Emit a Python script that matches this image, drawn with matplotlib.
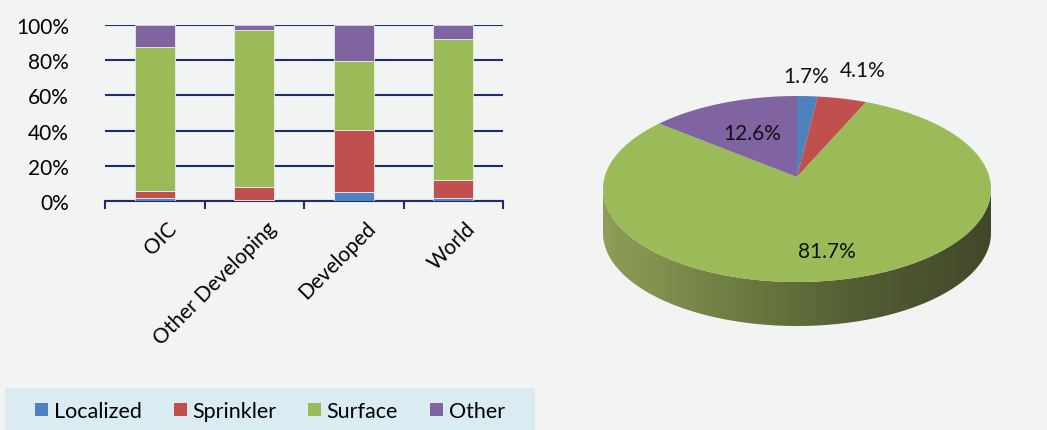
import numpy as np
import matplotlib
matplotlib.use("Agg")
import matplotlib.pyplot as plt
from matplotlib.patches import Polygon, Rectangle
from matplotlib.colors import LinearSegmentedColormap

plt.rcParams['font.family'] = ['Lato', 'DejaVu Sans']

# ---- data ----
regions = ["OIC", "Other Developing", "Developed", "World"]
methods = ["Localized", "Sprinkler", "Surface", "Other"]
localized = [1.7, 0.8, 5.3, 1.9]
sprinkler = [4.1, 6.9, 35.3, 10.2]
surface = [81.7, 89.5, 39.2, 80.2]
other = [12.5, 2.8, 20.2, 7.7]
pie_vals = [1.7, 4.1, 81.7, 12.6]
pie_labels = ["1.7%", "4.1%", "81.7%", "12.6%"]

colors = ["#4f81bd", "#c0504d", "#9bbb59", "#8064a2"]
bg = "#f2f4f4"
navy = "#1f2d6b"
fs = 15

W, H = 1047, 431
fig = plt.figure(figsize=(W / 100, H / 100), dpi=100, facecolor=bg)

# ---- stacked bars ----
ax = fig.add_axes([105 / W, 1 - 202 / H, 398 / W, 176 / H], facecolor=bg)
x = np.arange(len(regions))
bottom = np.zeros(len(regions))
for vals, c in zip([localized, sprinkler, surface, other], colors):
    ax.bar(x, vals, bottom=bottom, width=0.4, color=c, edgecolor="#e8ecef", linewidth=0.6, zorder=3)
    bottom += np.array(vals)

ax.set_xlim(-0.5, len(regions) - 0.5)
ax.set_ylim(0, 100)
ax.set_yticks(np.arange(0, 101, 20))
ax.set_yticklabels([f"{v}%" for v in range(0, 101, 20)], fontsize=fs)
ax.yaxis.grid(True, color=navy, linewidth=1.5, zorder=0)
ax.tick_params(axis="y", length=0, pad=26)
for s in ["left", "right", "top"]:
    ax.spines[s].set_visible(False)
ax.spines["bottom"].set_color(navy)
ax.spines["bottom"].set_linewidth(1.5)
ax.set_xticks(np.arange(-0.5, len(regions), 1.0))
ax.set_xticklabels([])
ax.tick_params(axis="x", which="major", length=6, width=1.5, color=navy)
ax.set_xticks(x + 0.12, minor=True)
ax.set_xticklabels(regions, minor=True, rotation=45, ha="right", rotation_mode="anchor", fontsize=fs)
ax.tick_params(axis="x", which="minor", length=0, pad=12)

# ---- 3D-looking pie ----
pax = fig.add_axes([0, 0, 1, 1])
pax.set_xlim(0, W)
pax.set_ylim(H, 0)
pax.axis("off")
pax.set_zorder(-1)

cx, cy, rx, ry, depth = 797, 190, 194, 93, 44
apex = np.array([797, 178])


def edge(theta_deg):
    t = np.radians(theta_deg)
    return np.column_stack([cx + rx * np.cos(t), cy - ry * np.sin(t)])


# side (front half)
th = np.linspace(180, 360, 200)
top_edge = edge(th)
bot_edge = top_edge[::-1] + np.array([0, depth])
side = Polygon(np.vstack([top_edge, bot_edge]), closed=True, facecolor="none", edgecolor="none")
pax.add_patch(side)
cmap = LinearSegmentedColormap.from_list("side", ["#8e9e58", "#6e7d42", "#525c34", "#414829"])
grad = np.linspace(0, 1, 256).reshape(1, -1)
im = pax.imshow(grad, cmap=cmap, extent=[cx - rx, cx + rx, cy + ry + depth, cy - ry],
                aspect="auto", zorder=1)
im.set_clip_path(side)

# top face wedges, clockwise from 90 deg
start = 90.0
label_r = [1.25, 1.37, 0.72, 0.6]
label_dx = [-4, 4, 0, 0]
for v, c, lab, r, dx in zip(pie_vals, colors, pie_labels, label_r, label_dx):
    sweep = v / sum(pie_vals) * 360
    angs = np.linspace(start, start - sweep, max(int(sweep * 2), 4))
    pts = np.vstack([apex, edge(angs)])
    pax.add_patch(Polygon(pts, closed=True, facecolor=c, edgecolor="none", zorder=2))
    mid = edge(start - sweep / 2)[0]
    lp = apex + r * (mid - apex)
    pax.text(lp[0] + dx, lp[1], lab, ha="center", va="center", fontsize=fs, color="#111111", zorder=3)
    start -= sweep

# ---- legend band ----
pax.add_patch(Rectangle((5, 389), 530, 42, facecolor="#daecf2", edgecolor="none", zorder=1))
handles = [Rectangle((0, 0), 1, 1, facecolor=c) for c in colors]
fig.legend(handles, methods, loc="center", bbox_to_anchor=(270 / W, 1 - 412 / H), ncol=4,
           frameon=False, fontsize=15.5, handlelength=0.6, handleheight=0.6,
           handletextpad=0.25, columnspacing=1.5)

fig.savefig("out.png", dpi=100, facecolor=bg)
